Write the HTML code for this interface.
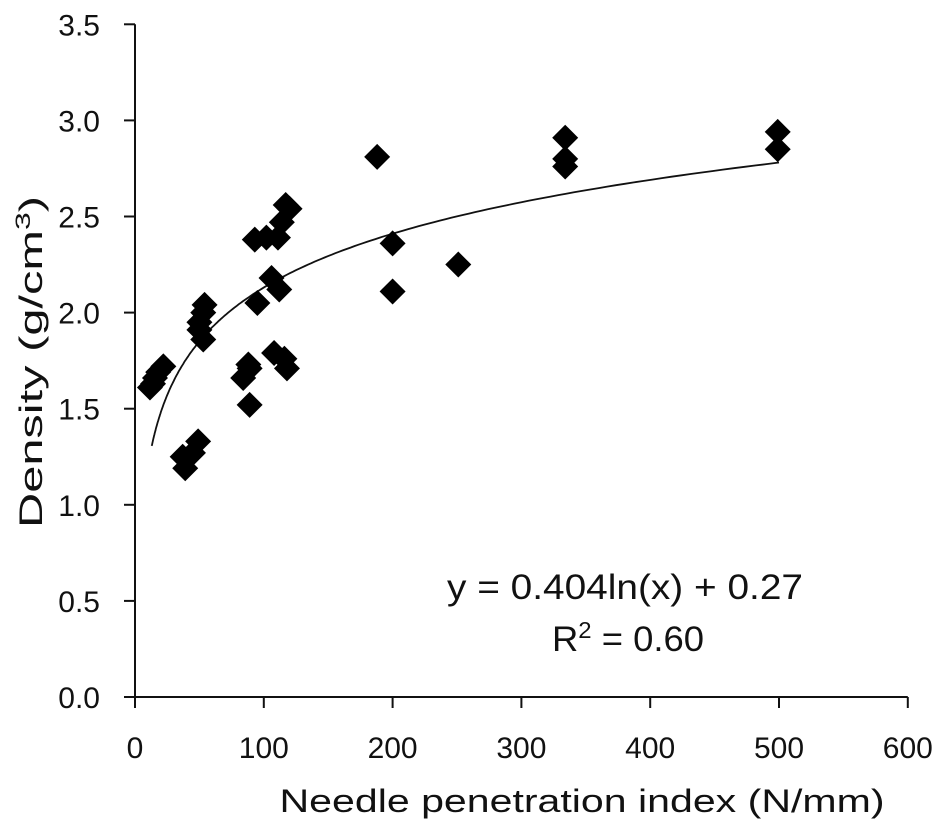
<!DOCTYPE html>
<html><head><meta charset="utf-8"><style>
html,body{margin:0;padding:0;background:#fff;}
svg text{font-family:"Liberation Sans",sans-serif;fill:#111;}
.tick{font-size:30px;}
.title{font-size:32px;}
.eq{font-size:35px;}
</style></head><body>
<svg id="chart" width="945" height="830" viewBox="0 0 945 830" xmlns="http://www.w3.org/2000/svg">
<g id="axes"></g><g id="curve"></g><g id="points"></g>
<text class="title" x="0" y="0" text-anchor="middle" transform="translate(42,362) rotate(-90)" textLength="332" lengthAdjust="spacingAndGlyphs">Density (g/cm<tspan dy="-12" style="font-size:21px">3</tspan><tspan dy="12">)</tspan></text>
<text class="title" x="582" y="812" text-anchor="middle" textLength="605" lengthAdjust="spacingAndGlyphs">Needle penetration index (N/mm)</text>
<text class="eq" x="625" y="599" text-anchor="middle" textLength="356" lengthAdjust="spacingAndGlyphs">y = 0.404ln(x) + 0.27</text>
<text class="eq" x="628" y="651" text-anchor="middle" textLength="152" lengthAdjust="spacingAndGlyphs">R<tspan dy="-13" style="font-size:23px">2</tspan><tspan dy="13"> = 0.60</tspan></text>
</svg>
<script>
const xTicks=[0,100,200,300,400,500,600];
const yTicks=[0.0,0.5,1.0,1.5,2.0,2.5,3.0,3.5];
const xVals=[11.6,14,15.5,18,22,37,39,45,49,50,50,53,53,54,84,89,89,95,93,102,106,111,112,114,117,120,108,116,118,88,188,200,200,251,334,334,334,499,499];
const yVals=[1.61,1.63,1.66,1.69,1.72,1.25,1.19,1.27,1.33,1.95,1.91,2.0,1.86,2.04,1.66,1.71,1.52,2.05,2.38,2.39,2.18,2.39,2.12,2.47,2.56,2.54,1.79,1.76,1.71,1.73,2.81,2.36,2.11,2.25,2.91,2.80,2.76,2.94,2.85];
const fitA=0.404, fitB=0.27, fitMin=13, fitMax=500;
const NS='http://www.w3.org/2000/svg';
const X=v=>135+v*1.288, Y=v=>697-v*192.2;
function mk(tag,attrs,parent){const e=document.createElementNS(NS,tag);for(const k in attrs)e.setAttribute(k,attrs[k]);parent.appendChild(e);return e;}
const axes=document.getElementById('axes');
let l=mk('line',{x1:135,y1:Y(3.5),x2:135,y2:697,stroke:'#111','stroke-width':2},axes);


l=mk('line',{x1:124,y1:697,x2:X(600),y2:697,stroke:'#111','stroke-width':2},axes);


xTicks.forEach(t=>{
 const tk=mk('line',{x1:X(t),y1:697,x2:X(t),y2:708,stroke:'#111','stroke-width':2},axes);
 
 
 const tx=mk('text',{x:X(t),y:758,'class':'tick','text-anchor':'middle'},axes);
 tx.textContent=String(t);
 
 
});
yTicks.forEach(t=>{
 const tk=mk('line',{x1:124,y1:Y(t),x2:135,y2:Y(t),stroke:'#111','stroke-width':2},axes);
 
 
 const tx=mk('text',{x:100,y:Y(t)+11,'class':'tick','text-anchor':'end'},axes);
 tx.textContent=t.toFixed(1);
 
 
});
let d='';
for(let i=0;i<=200;i++){const x=fitMin*Math.pow(fitMax/fitMin,i/200);const y=fitA*Math.log(x)+fitB;d+=(i?'L':'M')+X(x).toFixed(1)+','+Y(y).toFixed(1);}
const c=mk('path',{d:d,fill:'none',stroke:'#111','stroke-width':1.8},document.getElementById('curve'));


const pg=document.getElementById('points');
xVals.forEach((xv,i)=>{
 const cx=X(xv),cy=Y(yVals[i]),r=13;
 const p=mk('polygon',{points:`${cx},${cy-r} ${cx+r},${cy} ${cx},${cy+r} ${cx-r},${cy}`,fill:'#000'},pg);
 
 
});
</script>
</body></html>
